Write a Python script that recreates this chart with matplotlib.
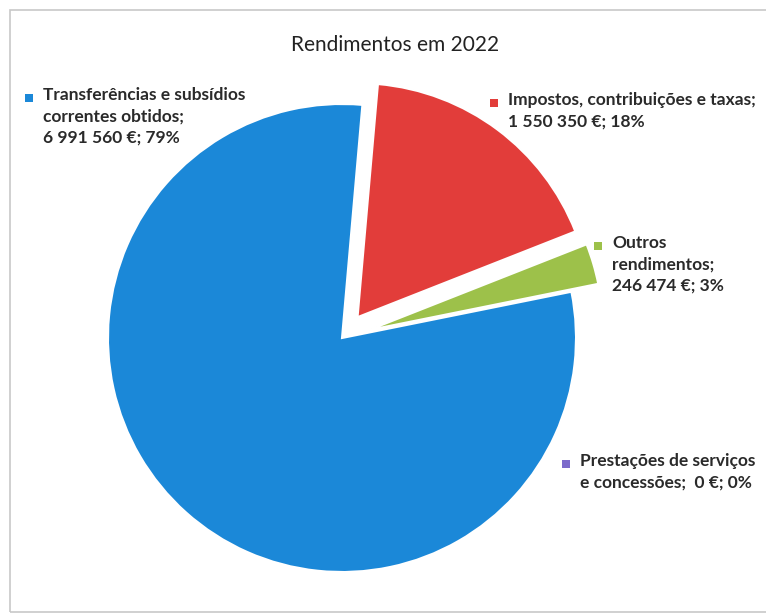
import matplotlib.pyplot as plt
from matplotlib.patches import Rectangle

# Rendimentos em 2022 - pie chart
categories = ['Impostos, contribuições e taxas', 'Outros rendimentos',
              'Prestações de serviços e concessões',
              'Transferências e subsídios correntes obtidos']
values = [1550350, 246474, 0, 6991560]
label_texts = ['Impostos, contribuições e taxas;\n1 550 350 €; 18%',
               'Outros\nrendimentos;\n246 474 €; 3%',
               'Prestações de serviços\ne concessões;  0 €; 0%',
               'Transferências e subsídios\ncorrentes obtidos;\n6 991 560 €; 79%']
colors = ['#e23d3a', '#9dc14a', '#7c6acb', '#1b88d8']

W, H = 766, 614
fig = plt.figure(figsize=(W / 100, H / 100), dpi=100)
ax = fig.add_axes([0, 0, 1, 1])

# pixel-like coordinates (y measured from bottom)
ax.pie(values, colors=colors, explode=[26, 28, 0, 0], startangle=85,
       counterclock=False, radius=234, center=(342, H - 338),
       wedgeprops=dict(linewidth=1.5, edgecolor='white'))
ax.set_xlim(0, W)
ax.set_ylim(0, H)
ax.set_aspect('auto')
ax.axis('off')

# frame
ax.add_patch(Rectangle((10, 2), 800, H - 12, fill=False, ec='#c8c8c8', lw=1.2))

ax.text(395, H - 45, 'Rendimentos em 2022', ha='center', va='center',
        fontsize=15, family='Lato', color='#222222')

# label key squares and text (x, y of first line)
label_pos = [(494, 103), (598, 246), (566, 464), (29, 98)]
for (x, y), txt, c in zip(label_pos, label_texts, colors):
    ax.add_patch(Rectangle((x - 4, H - y - 4), 8, 8, color=c, lw=0))
    ax.text(x + 14, H - y + 11, txt, ha='left', va='top', fontsize=12.5,
            family='Lato', fontweight='bold', color='#2a2a2a', linespacing=1.42)

fig.savefig('out.png', dpi=100)
